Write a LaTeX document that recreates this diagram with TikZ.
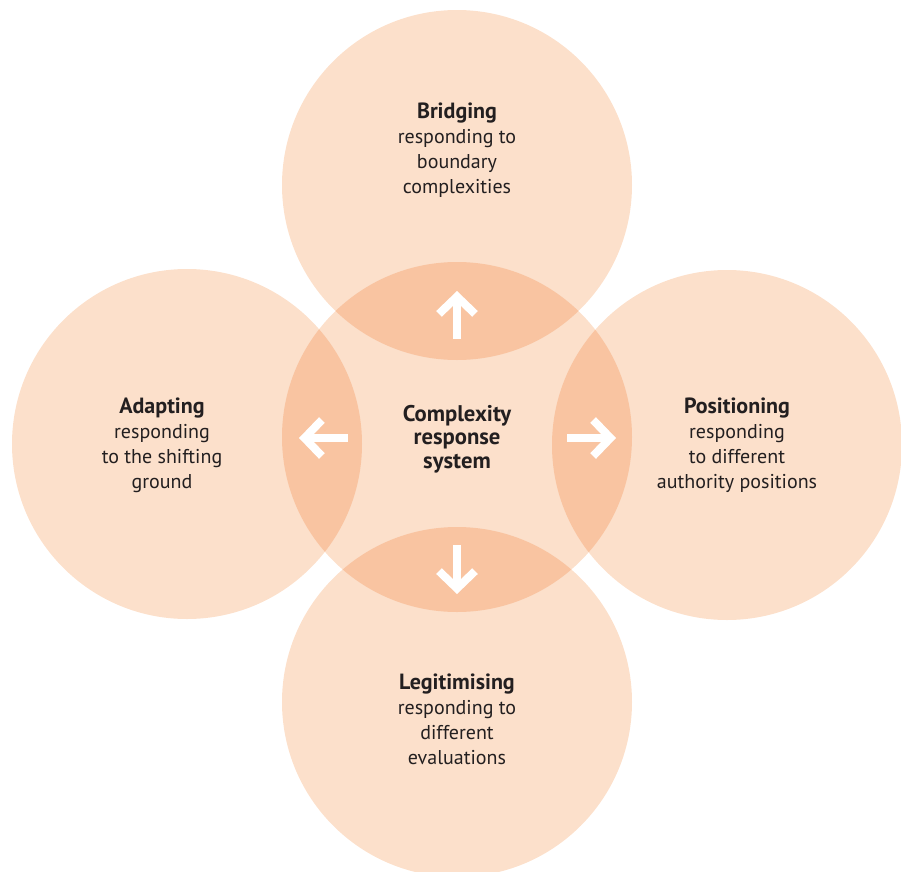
\documentclass[tikz,border=0pt]{standalone}
\usepackage{fontspec}
\setmainfont{PT Sans}
\usetikzlibrary{arrows.meta}
\definecolor{peach}{RGB}{252,224,203}
\definecolor{inkdark}{RGB}{35,31,32}
\newcommand{\headtxt}[1]{{\fontsize{16.5}{18.75}\selectfont\bfseries #1}}
\begin{document}
\begin{tikzpicture}[x=0.75pt,y=-0.75pt]
    \tikzset{
    ring/.style={circle,minimum size=262.5pt,inner sep=0pt,fill=peach,blend mode=multiply},
    txt/.style={align=center,text=inkdark,font=\fontsize{15}{18.75}\selectfont},
    hub/.style={align=center,text=inkdark,font=\fontsize{17}{17.5}\selectfont\bfseries},
    wa/.style={white,line width=6pt,-{Straight Barb[length=13pt,width=27pt,line width=6pt]}},
    }
    \useasboundingbox (0,0) rectangle (901,872);
    \node[ring] (core) at (457,437) {};
    \node[ring] (top) at (457,185) {};
    \node[ring] (left) at (187,444) {};
    \node[ring] (right) at (727,445) {};
    \node[ring] (bottom) at (457,702) {};

    \node[hub] (tcore) at (457,439) {Complexity\\response\\system};
    \node[txt] (ttop) at (457,150) {\headtxt{Bridging}\\responding to\\boundary\\complexities};
    \node[txt] (tleft) at (162,445) {\headtxt{Adapting}\\responding\\to the shifting\\ground};
    \node[txt] (tright) at (737,445) {\headtxt{Positioning}\\responding\\to different\\authority positions};
    \node[txt] (tbottom) at (457,719) {\headtxt{Legitimising}\\responding to\\different\\evaluations};

    \coordinate (up0) at (457,339);
    \coordinate (up1) at (457,291);
    \coordinate (lf0) at (348,438);
    \coordinate (lf1) at (299,438);
    \coordinate (rt0) at (567,438);
    \coordinate (rt1) at (616,438);
    \coordinate (dn0) at (457,545);
    \coordinate (dn1) at (457,594);

    \draw[wa] (up0) -- (up1);
    \draw[wa] (lf0) -- (lf1);
    \draw[wa] (rt0) -- (rt1);
    \draw[wa] (dn0) -- (dn1);
\end{tikzpicture}
\end{document}
